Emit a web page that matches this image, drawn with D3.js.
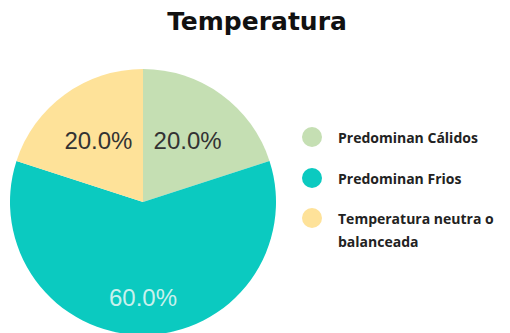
<!DOCTYPE html>
<html>
<head>
<meta charset="utf-8">
<script src="https://cdn.jsdelivr.net/npm/d3@7"></script>
<style>
  html, body { margin: 0; padding: 0; background: #fff; }
  svg { display: block; }
</style>
</head>
<body>
<svg id="chart" width="510" height="333"></svg>
<script>
// Chart data
const categories = ["Predominan Cálidos", "Predominan Frios", "Temperatura neutra o balanceada"];
const values = [20, 60, 20];
const colors = ["#c5dfb3", "#0bcac0", "#fee299"];
const labelColors = ["#333333", "#c9f1ed", "#333333"];
const legendLines = [["Predominan Cálidos"], ["Predominan Frios"], ["Temperatura neutra o", "balanceada"]];
const title = "Temperatura";

const width = 510, height = 333;
const svg = d3.select("#chart");

// Title
svg.append("text")
  .attr("x", 257)
  .attr("y", 30)
  .attr("text-anchor", "middle")
  .attr("font-family", "DejaVu Sans, Verdana, sans-serif")
  .attr("font-weight", "bold")
  .attr("font-size", 25)
  .attr("fill", "#111")
  .text(title);

// Pie
const cx = 143, cy = 202, R = 133;
const total = d3.sum(values);
const pie = d3.pie().sort(null).value(d => d)(values);
const arc = d3.arc().innerRadius(0).outerRadius(R);

const g = svg.append("g").attr("transform", `translate(${cx},${cy})`);
g.selectAll("path")
  .data(pie)
  .join("path")
  .attr("d", arc)
  .attr("fill", (d, i) => colors[i]);

// Slice labels: larger slices push their label further out
g.selectAll("text")
  .data(pie)
  .join("text")
  .attr("transform", d => {
    const span = d.endAngle - d.startAngle;
    const r = span > Math.PI ? R * 0.72 : R * 0.57;
    const a = (d.startAngle + d.endAngle) / 2;
    return `translate(${r * Math.sin(a)},${-r * Math.cos(a)})`;
  })
  .attr("text-anchor", "middle")
  .attr("dy", "0.35em")
  .attr("font-family", "Liberation Sans, Arial, sans-serif")
  .attr("font-size", 24)
  .attr("fill", (d, i) => labelColors[i])
  .text(d => (d.data / total * 100).toFixed(1) + "%");

// Legend
const legend = svg.append("g").attr("transform", "translate(312,0)");
const rowY = [137, 178, 218];
categories.forEach((c, i) => {
  const row = legend.append("g").attr("transform", `translate(0,${rowY[i]})`);
  row.append("circle").attr("r", 10).attr("fill", colors[i]);
  const t = row.append("text")
    .attr("x", 26)
    .attr("y", 6)
    .attr("font-family", "Open Sans, sans-serif")
    .attr("font-weight", "bold")
    .attr("font-size", 14)
    .attr("fill", "#222");
  legendLines[i].forEach((ln, j) => {
    t.append("tspan").attr("x", 26).attr("dy", j === 0 ? 0 : 23).text(ln);
  });
});
</script>
</body>
</html>
